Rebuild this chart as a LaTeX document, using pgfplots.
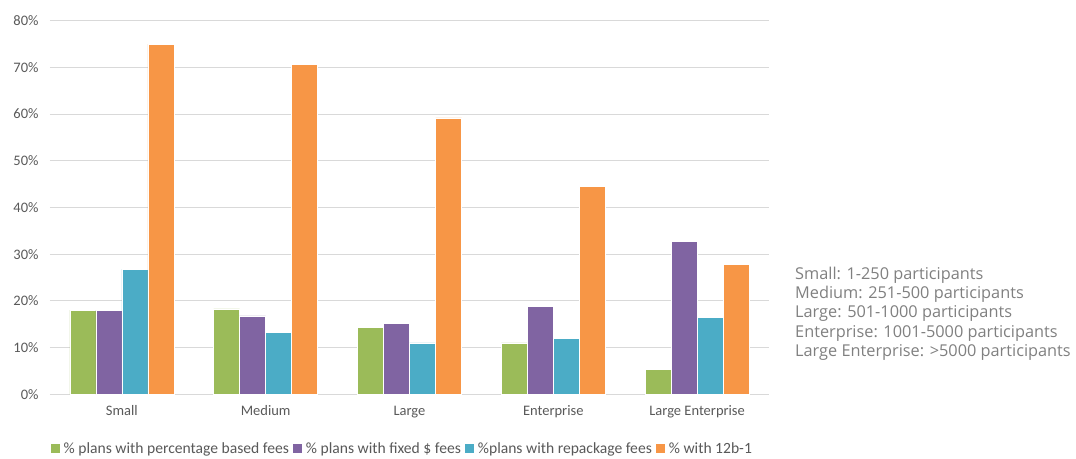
\documentclass[border=0pt]{standalone}
\usepackage{fontspec}
\setmainfont{Carlito}
\newfontfamily\opensans{Open Sans}
\usepackage{pgfplots}
\usepackage{pgfplotstable}
\pgfplotsset{compat=1.18}

\definecolor{cgreen}{HTML}{9BBB59}
\definecolor{cpurple}{HTML}{8064A2}
\definecolor{cblue}{HTML}{4BACC6}
\definecolor{corange}{HTML}{F79646}
\definecolor{gridgray}{HTML}{D9D9D9}
\definecolor{labelgray}{HTML}{595959}
\definecolor{notegray}{HTML}{808080}

% plan size, then the four fee shares in percent
\pgfplotstableread{
x pct fixed repack twelve
0 18.0 18.0 26.8 75.0
1 18.3 16.8 13.3 70.7
2 14.3 15.2 11.0 59.2
3 11.0 18.8 12.0 44.6
4 5.3 32.8 16.4 27.8
}\feedata

\begin{document}
\begin{tikzpicture}
\begin{axis}[
    at={(50pt,63.7pt)}, anchor=south west,
    scale only axis,
    width=719pt, height=373.6pt,
    ybar=0pt, bar width=26pt,
    xmin=-0.5, xmax=4.5,
    ymin=0, ymax=80,
    ytick={0,10,...,80},
    yticklabel={\pgfmathprintnumber{\tick}\%},
    xtick={0,1,2,3,4},
    xticklabels={Small,Medium,Large,Enterprise,Large Enterprise},
    axis line style={draw=none},
    major tick length=0pt,
    ymajorgrids,
    grid style={draw=gridgray, line width=1pt},
    /pgf/number format/assume math mode=true,
    ticklabel style={font=\fontsize{14.5}{16}\selectfont, text=labelgray},
    yticklabel style={xshift=-8pt},
    xticklabel style={yshift=-8pt},
    legend columns=4,
    legend style={at={(0.49,-0.145)}, anchor=center, draw=none,
        font=\fontsize{15.6}{18}\selectfont, text=labelgray,
        /tikz/every odd column/.append style={column sep=2pt},
        /tikz/every even column/.append style={column sep=2pt}},
    legend image code/.code={\path[#1,draw=none] (0pt,-4.5pt) rectangle (9pt,4.5pt);},
]
\addplot[fill=cgreen, draw=white, line width=0.6pt] table[x=x, y=pct] {\feedata};
\addlegendentry{\% plans with percentage based fees}
\addplot[fill=cpurple, draw=white, line width=0.6pt] table[x=x, y=fixed] {\feedata};
\addlegendentry{\% plans with fixed \$ fees}
\addplot[fill=cblue, draw=white, line width=0.6pt] table[x=x, y=repack] {\feedata};
\addlegendentry{\%plans with repackage fees}
\addplot[fill=corange, draw=white, line width=0.6pt] table[x=x, y=twelve] {\feedata};
\addlegendentry{\% with 12b-1}
\end{axis}
\node[anchor=north west, align=left, inner sep=0pt, text=notegray,
      font=\opensans\fontsize{16.3}{19.2}\selectfont] at (795pt,191pt)
    {Small: 1-250 participants\\
     Medium: 251-500 participants\\
     Large: 501-1000 participants\\
     Enterprise: 1001-5000 participants\\
     Large Enterprise: >5000 participants};
\pgfresetboundingbox
\path[use as bounding box] (0,0) rectangle (1076pt,458pt);
\end{tikzpicture}
\end{document}
